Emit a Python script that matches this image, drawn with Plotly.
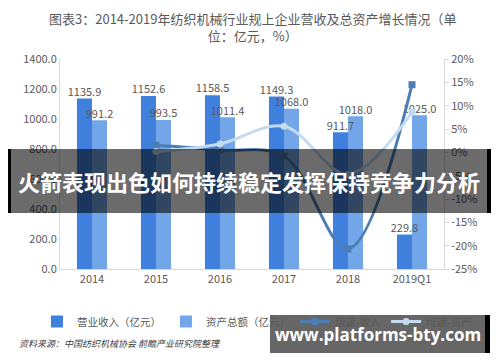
import plotly.graph_objects as go

categories = ["2014", "2015", "2016", "2017", "2018", "2019Q1"]
revenue = [1135.9, 1152.6, 1158.5, 1149.3, 911.7, 229.8]
assets = [991.2, 993.5, 1011.4, 1068.0, 1018.0, 1025.0]
rev_growth = [None, 1.5, 0.5, -0.8, -20.7, 14.5]
asset_growth = [None, 0.2, 1.8, 5.6, -4.7, 8.6]

left_ticks = [0, 200, 400, 600, 800, 1000, 1200, 1400]
right_ticks = [-25, -20, -15, -10, -5, 0, 5, 10, 15, 20]

gray = "#595959"
font_main = "Noto Sans CJK SC"

idx = list(range(len(categories)))
bw = 0.235  # bar width in category units

fig = go.Figure()
fig.add_trace(go.Bar(
    x=idx, y=revenue, name="营业收入（亿元）", offset=-bw, width=bw,
    marker=dict(color="#3f80dc", line=dict(width=0)), legendrank=1,
))
fig.add_trace(go.Bar(
    x=idx, y=assets, name="资产总额（亿元）", offset=0, width=bw,
    marker=dict(color="#72a6e8", line=dict(width=0)), legendrank=2,
))
fig.add_trace(go.Scatter(
    x=idx, y=rev_growth, name="增速-收入", yaxis="y2", legendrank=3,
    mode="lines+markers", line=dict(color="#4d7db5", width=3, shape="spline"),
    marker=dict(symbol="square", size=7, color="#4d7db5"),
))
fig.add_trace(go.Scatter(
    x=idx, y=asset_growth, name="增速-资产", yaxis="y2", legendrank=4,
    mode="lines+markers", line=dict(color="#c3daf1", width=3, shape="spline"),
    marker=dict(symbol="circle", size=7, color="#c3daf1"),
))
# data labels (drawn above all bars)
fig.add_trace(go.Scatter(
    x=[i - bw / 2 for i in idx], y=revenue, mode="text", showlegend=False,
    text=[f"{v:.1f}" for v in revenue], textposition="top center",
    textfont=dict(size=11, color=gray), cliponaxis=False, hoverinfo="skip",
))
fig.add_trace(go.Scatter(
    x=[i + bw / 2 for i in idx], y=assets, mode="text", showlegend=False,
    text=[f"{v:.1f}" for v in assets], textposition="top center",
    textfont=dict(size=11, color=gray), cliponaxis=False, hoverinfo="skip",
))

fig.update_layout(
    width=500, height=362,
    margin=dict(l=60, r=56, t=59, b=93, autoexpand=False),
    paper_bgcolor="white", plot_bgcolor="white",
    font=dict(family=font_main, color=gray, size=11),
    barmode="overlay",
    showlegend=True,
    legend=dict(orientation="h", x=-0.06, xanchor="left", y=-0.25, yanchor="middle",
                font=dict(size=10.5, color=gray), itemwidth=30, tracegroupgap=0,
                bgcolor="rgba(0,0,0,0)", traceorder="normal"),
    xaxis=dict(range=[-0.5, len(categories) - 0.5], tickvals=idx, ticktext=categories,
               showline=True, linecolor="#d9d9d9", linewidth=1, ticks="",
               tickfont=dict(size=11, color=gray), showgrid=False, zeroline=False),
    yaxis=dict(range=[0, 1400], tickvals=left_ticks, tickformat=".1f",
               showline=True, linecolor="#d9d9d9", showgrid=False, zeroline=False,
               tickfont=dict(size=11, color=gray), ticks=""),
    yaxis2=dict(range=[-25, 20], tickvals=right_ticks,
                ticktext=[f"{v}%" for v in right_ticks],
                overlaying="y", side="right", showline=True, linecolor="#d9d9d9",
                showgrid=False, zeroline=False, ticks="outside", ticklen=4,
                tickcolor="#d9d9d9", tickfont=dict(size=11, color=gray)),
)

# Title
fig.add_annotation(text="图表3：2014-2019年纺织机械行业规上企业营收及总资产增长情况（单<br>位：亿元，%）",
                   xref="paper", yref="paper", x=0.5, y=1.0, yshift=52, xanchor="center",
                   yanchor="top", showarrow=False, align="center",
                   font=dict(size=13, color=gray, family=font_main))
# Source
fig.add_annotation(text="<i>资料来源：中国纺织机械协会 前瞻产业研究院整理</i>",
                   xref="paper", yref="paper", x=-0.112, y=-0.353, xanchor="left",
                   yanchor="middle", showarrow=False,
                   font=dict(size=9, color="#404040", family=font_main))

# Banner overlay
fig.add_shape(type="rect", xref="paper", yref="paper",
              x0=(8 - 60) / 384, x1=(490 - 60) / 384,
              y0=(269 - 213) / 210, y1=(269 - 149) / 210,
              fillcolor="rgba(0,0,0,0.58)", line=dict(width=0), layer="above")
fig.add_shape(type="rect", xref="paper", yref="paper",
              x0=(8 - 60) / 384, x1=(11 - 60) / 384,
              y0=(269 - 213) / 210, y1=(269 - 149) / 210,
              fillcolor="black", line=dict(width=0), layer="above")
fig.add_shape(type="rect", xref="paper", yref="paper",
              x0=(487 - 60) / 384, x1=(491 - 60) / 384,
              y0=(269 - 213) / 210, y1=(269 - 149) / 210,
              fillcolor="black", line=dict(width=0), layer="above")
fig.add_annotation(text="<b>火箭表现出色如何持续稳定发挥保持竞争力分析</b>",
                   xref="paper", yref="paper", x=(249 - 60) / 384, y=(269 - 181) / 210,
                   xanchor="center", yanchor="middle", showarrow=False,
                   font=dict(size=22, color="white", family=font_main))

# Watermark box
fig.add_shape(type="rect", xref="paper", yref="paper",
              x0=(270 - 60) / 384, x1=(487 - 60) / 384,
              y0=(269 - 353) / 210, y1=(269 - 315) / 210,
              fillcolor="rgba(90,90,90,0.93)", line=dict(width=0), layer="above")
fig.add_shape(type="rect", xref="paper", yref="paper",
              x0=(485 - 60) / 384, x1=(490 - 60) / 384,
              y0=(269 - 353) / 210, y1=(269 - 315) / 210,
              fillcolor="black", line=dict(width=0), layer="above")
fig.add_annotation(text="<b>www.platforms-bty.com</b>",
                   xref="paper", yref="paper", x=(378 - 60) / 384, y=(269 - 334) / 210,
                   xanchor="center", yanchor="middle", showarrow=False,
                   font=dict(size=17, color="white", family="Open Sans"))

fig.write_html("out.html", config={"displayModeBar": False},
               post_script="document.body.style.margin='0';")
